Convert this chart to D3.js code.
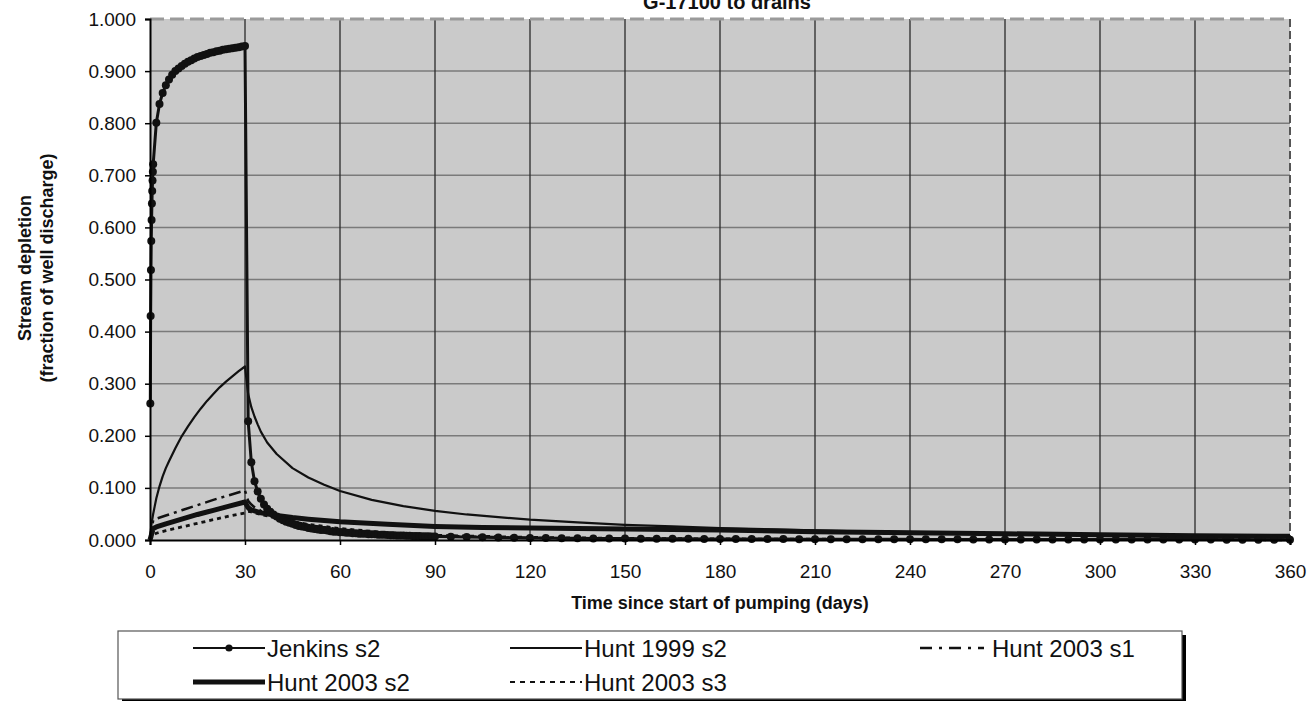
<!DOCTYPE html>
<html><head><meta charset="utf-8">
<script src="https://cdn.jsdelivr.net/npm/d3@7"></script>
<style>html,body{margin:0;padding:0;background:#fff;} svg{display:block;font-family:"Liberation Sans",Arial,sans-serif;}</style>
</head><body><svg id="c" width="1308" height="701"></svg>
<script>
const chartTitle = "G-17100 to drains";
const xAxisTitle = "Time since start of pumping (days)";
const yAxisTitle = ["Stream depletion", "(fraction of well discharge)"];
const xTickValues = [0, 30, 60, 90, 120, 150, 180, 210, 240, 270, 300, 330, 360];
const yTickValues = [0, 0.1, 0.2, 0.3, 0.4, 0.5, 0.6, 0.7, 0.8, 0.9, 1.0];

const jenkinsDays = [0.1,0.2,0.3,0.4,0.5,0.6,0.7,0.8,0.9,
 1,2,3,4,5,6,7,8,9,10,11,12,13,14,15,16,17,18,19,20,21,22,23,24,25,26,27,28,29,30,
 31,32,33,34,35,36,37,38,39,40,41,42,43,44,45,46,47,48,49,50,51,52,53,54,55,56,57,58,59,60,
 61,62,63,64,65,66,67,68,69,70,71,72,73,74,75,76,77,78,79,80,81,82,83,84,85,86,87,88,89,90,
 95,100,105,110,115,120,125,130,135,140,145,150,155,160,165,170,175,180,
 185,190,195,200,205,210,215,220,225,230,235,240,245,250,255,260,265,270,
 275,280,285,290,295,300,305,310,315,320,325,330,335,340,345,350,355,360];
const jenkinsValues = [0.262,0.430,0.518,0.574,0.614,0.646,0.670,0.690,0.707,
 0.721,0.801,0.837,0.858,0.873,0.884,0.893,0.900,0.905,0.910,0.914,0.918,0.921,0.924,0.927,0.929,0.931,0.933,0.935,0.936,0.938,0.939,0.941,0.942,0.943,0.944,0.945,0.946,0.947,0.948,
 0.228,0.149,0.113,0.093,0.079,0.068,0.060,0.054,0.049,0.045,0.041,0.038,0.035,0.033,0.031,0.029,0.027,0.026,0.025,0.023,0.022,0.021,0.020,0.019,0.019,0.018,0.017,0.016,0.016,0.015,
 0.015,0.014,0.014,0.013,0.013,0.012,0.012,0.012,0.011,0.011,0.011,0.010,0.010,0.010,0.0096,0.0093,0.0091,0.0088,0.0086,0.0084,0.0082,0.0080,0.0078,0.0076,0.0075,0.0073,0.0072,0.0070,0.0069,0.0068,
 0.0062,0.0056,0.0051,0.0047,0.0043,0.0040,0.0037,0.0034,0.0032,0.0030,0.0029,0.0028,0.0026,0.0025,0.0024,0.0022,0.0021,0.0020,
 0.0019,0.0018,0.0018,0.0017,0.0016,0.0016,0.0015,0.0015,0.0014,0.0014,0.0013,0.0013,0.0012,0.0012,0.0012,0.0011,0.0011,0.0011,
 0.0010,0.0010,0.0010,0.0010,0.0009,0.0009,0.0009,0.0009,0.0008,0.0008,0.0008,0.0008,0.0008,0.0007,0.0007,0.0007,0.0007,0.0007];

const hunt1999Days = [0,0.25,0.5,1,1.5,2,3,4,5,6,8,10,12,14,16,18,20,22,24,26,28,30,
 31,32,33,34,35,37,40,45,50,55,60,70,80,90,100,110,120,135,150,165,180,200,220,240,270,300,330,360];
const hunt1999Values = [0,0.018,0.032,0.050,0.065,0.080,0.103,0.122,0.138,0.151,0.176,0.199,0.218,0.236,0.252,0.267,0.280,0.293,0.304,0.314,0.324,0.333,
 0.280,0.255,0.237,0.222,0.208,0.187,0.165,0.138,0.120,0.106,0.094,0.077,0.065,0.056,0.049,0.044,0.039,0.034,0.029,0.026,0.023,0.020,0.017,0.015,0.012,0.010,0.009,0.008];

const hunt2003s1Days = [0,1,2,5,10,15,20,25,30,31,32,33,35,40,45,50,60,75,90,120,150,200,250,300,360];
const hunt2003s1Values = [0,0.038,0.041,0.047,0.057,0.067,0.077,0.086,0.095,0.075,0.068,0.063,0.056,0.045,0.036,0.029,0.020,0.012,0.008,0.004,0.002,0.001,0.0008,0.0005,0.0003];

const hunt2003s2Days = [0,1,2,5,10,15,20,25,30,31,32,33,35,40,45,50,60,75,90,105,120,150,180,210,240,270,300,330,360];
const hunt2003s2Values = [0,0.022,0.025,0.031,0.040,0.049,0.057,0.065,0.073,0.062,0.058,0.056,0.052,0.047,0.043,0.040,0.035,0.030,0.026,0.024,0.023,0.021,0.019,0.016,0.014,0.012,0.010,0.008,0.007];

const hunt2003s3Days = [0,1,2,5,10,15,20,25,30,31,32,33,35,40,45,50,60,75,90,120,150,180,240,300,360];
const hunt2003s3Values = [0,0.010,0.013,0.018,0.025,0.032,0.039,0.046,0.052,0.055,0.054,0.052,0.049,0.042,0.035,0.030,0.022,0.014,0.009,0.005,0.003,0.002,0.001,0.0007,0.0005];

const zip = (xs, ys) => { const n = Math.min(xs.length, ys.length); const o = []; for (let i = 0; i < n; i++) o.push([xs[i], ys[i]]); return o; };

const series = [
  {name: "Hunt 1999 s2", data: zip(hunt1999Days, hunt1999Values), width: 2.2, dash: null},
  {name: "Hunt 2003 s1", data: zip(hunt2003s1Days, hunt2003s1Values), width: 2.5, dash: "12,5,3,5"},
  {name: "Hunt 2003 s3", data: zip(hunt2003s3Days, hunt2003s3Values), width: 2.8, dash: "4,4"},
  {name: "Hunt 2003 s2", data: zip(hunt2003s2Days, hunt2003s2Values), width: 5, dash: null},
  {name: "Jenkins s2", data: zip(jenkinsDays, jenkinsValues), width: 3, dash: null, markers: true}
];

const svg = d3.select("#c");
const L = 150, R = 1290, T = 19, B = 540;
const x = d3.scaleLinear().domain([0, 360]).range([L, R]);
const y = d3.scaleLinear().domain([0, 1]).range([B, T]);

svg.append("rect").attr("x", L).attr("y", T).attr("width", R - L).attr("height", B - T).attr("fill", "#cacaca");

svg.append("g").selectAll("line").data(yTickValues.filter(v => v > 0 && v < 1)).join("line")
  .attr("x1", L).attr("x2", R).attr("y1", d => y(d)).attr("y2", d => y(d))
  .attr("stroke", "#7a7a7a").attr("stroke-width", 1.5);
svg.append("g").selectAll("line").data(xTickValues.filter(v => v > 0 && v < 360)).join("line")
  .attr("x1", d => x(d)).attr("x2", d => x(d)).attr("y1", T).attr("y2", B)
  .attr("stroke", "#2a2a2a").attr("stroke-width", 1.3);

svg.append("line").attr("x1", L).attr("x2", R).attr("y1", T).attr("y2", T)
  .attr("stroke", "#9a9a9a").attr("stroke-width", 3).attr("stroke-dasharray", "14,6");
svg.append("line").attr("x1", R).attr("x2", R).attr("y1", T).attr("y2", B)
  .attr("stroke", "#555").attr("stroke-width", 2).attr("stroke-dasharray", "8,4");

svg.append("clipPath").attr("id", "clip").append("rect").attr("x", L - 6).attr("y", T - 6).attr("width", R - L + 12).attr("height", B - T + 12);
const plot = svg.append("g").attr("clip-path", "url(#clip)");
const line = d3.line().x(d => x(d[0])).y(d => y(d[1]));

series.forEach(s => {
  plot.append("path").datum(s.data).attr("d", line).attr("fill", "none")
    .attr("stroke", "#111").attr("stroke-width", s.width)
    .attr("stroke-dasharray", s.dash).attr("stroke-linejoin", "round");
  if (s.markers) {
    plot.append("g").selectAll("circle").data(s.data).join("circle")
      .attr("cx", d => x(d[0])).attr("cy", d => y(d[1])).attr("r", 4).attr("fill", "#111");
  }
});

const fmt = d3.format(".3f");
const yAxis = svg.append("g").attr("transform", `translate(${L},0)`)
  .call(d3.axisLeft(y).tickValues(yTickValues).tickFormat(fmt).tickSize(5).tickPadding(9));
const xAxis = svg.append("g").attr("transform", `translate(0,${B})`)
  .call(d3.axisBottom(x).tickValues(xTickValues).tickFormat(d3.format("d")).tickSize(5).tickPadding(20));
[xAxis, yAxis].forEach(g => {
  g.select(".domain").attr("stroke", "#000").attr("stroke-width", 2);
  g.selectAll(".tick line").attr("stroke", "#000").attr("stroke-width", 1.5);
  g.selectAll(".tick text").attr("font-size", 19).attr("fill", "#111").attr("font-family", "'Liberation Sans',Arial,sans-serif");
});

svg.append("text").attr("x", 727).attr("y", 9).attr("text-anchor", "middle")
  .attr("font-weight", "bold").attr("font-size", 20).attr("fill", "#111").text(chartTitle);
svg.append("text").attr("x", 720).attr("y", 609).attr("text-anchor", "middle")
  .attr("font-weight", "bold").attr("font-size", 18).attr("fill", "#111").text(xAxisTitle);
const yt = svg.append("text").attr("transform", "translate(31,268) rotate(-90)")
  .attr("text-anchor", "middle").attr("font-weight", "bold").attr("font-size", 18).attr("fill", "#111");
yt.append("tspan").attr("x", 0).attr("dy", 0).text(yAxisTitle[0]);
yt.append("tspan").attr("x", 0).attr("dy", 22).text(yAxisTitle[1]);

const lg = svg.append("g");
lg.append("rect").attr("x", 122).attr("y", 635).attr("width", 1064).attr("height", 68).attr("fill", "#000");
lg.append("rect").attr("x", 118).attr("y", 631).attr("width", 1064).attr("height", 68)
  .attr("fill", "#fff").attr("stroke", "#555").attr("stroke-width", 1.2);
const legendItems = [
  {name: "Jenkins s2", lx: 193, row: 0, width: 2, dash: null, marker: true},
  {name: "Hunt 1999 s2", lx: 510, row: 0, width: 2, dash: null},
  {name: "Hunt 2003 s1", lx: 920, row: 0, width: 2.5, dash: "12,7,3,7"},
  {name: "Hunt 2003 s2", lx: 193, row: 1, width: 5, dash: null},
  {name: "Hunt 2003 s3", lx: 510, row: 1, width: 2, dash: "5,5"}
];
legendItems.forEach(it => {
  const yy = it.row === 0 ? 648 : 682;
  const len = it.lx === 920 ? 64 : 72;
  lg.append("line").attr("x1", it.lx).attr("x2", it.lx + len).attr("y1", yy).attr("y2", yy)
    .attr("stroke", "#111").attr("stroke-width", it.width).attr("stroke-dasharray", it.dash);
  if (it.marker) lg.append("circle").attr("cx", it.lx + len / 2).attr("cy", yy).attr("r", 3.6).attr("fill", "#111");
  lg.append("text").attr("x", it.lx + len + (it.lx === 920 ? 8 : 2)).attr("y", yy).attr("dy", "0.36em")
    .attr("font-size", 24).attr("fill", "#111").text(it.name);
});
</script></body></html>
